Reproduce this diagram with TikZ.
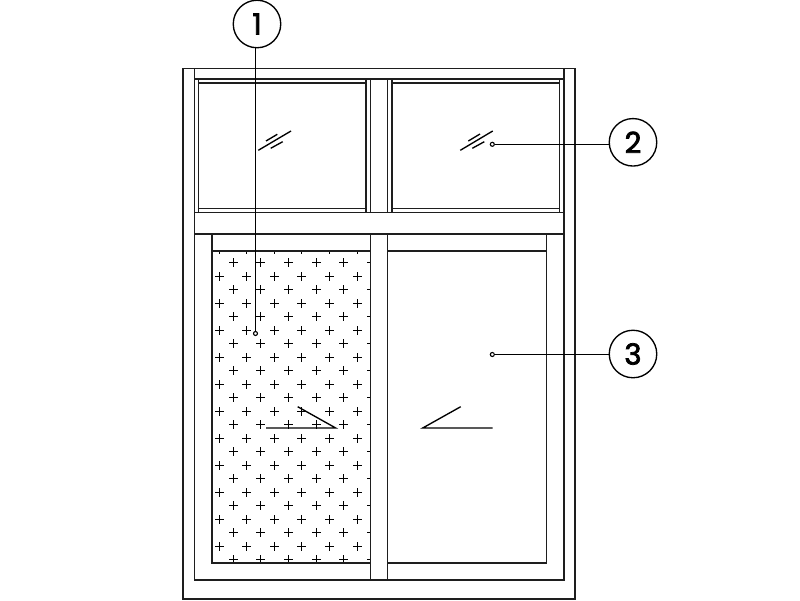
\documentclass[tikz,border=0pt]{standalone}
\usepackage{fontspec}
\setmainfont{Poppins}
\newfontfamily\calloutfont[FakeBold=2.5]{Poppins}
\definecolor{ink}{HTML}{1E1E1E}
\tikzset{
  frameline/.style={draw=ink,line width=1.6pt},
  thinline/.style={draw=black,line width=1.35pt},
  callout/.style={circle,draw=black,line width=1.35pt,fill=white,minimum size=47.5pt,inner sep=0pt,font=\calloutfont\fontsize{29}{29}\selectfont},
  tipdot/.style={circle,draw=black,line width=1.1pt,fill=white,minimum size=4pt,inner sep=0pt},
  leader/.style={draw=black,line width=1.35pt},
  plusmark/.style={draw=black,line width=1.2pt}
}
\begin{document}
\begin{tikzpicture}[x=1pt,y=-1pt]
\useasboundingbox[fill=white] (0,0) rectangle (800,600);
% hatch of crosses
\begin{scope}
\clip (211.7,251) rectangle (370.3,563);
\foreach \k in {0,...,23}{
  \pgfmathsetmacro{\yy}{floor(249.2+13.5*\k)+0.5}
  \pgfmathsetmacro{\xs}{isodd(\k) ? 205.7 : 219.0}
  \foreach \i in {0,...,6}{
    \pgfmathsetmacro{\xx}{floor(\xs+27.6*\i)+0.5}
    \draw[plusmark] (\xx-4.2,\yy) -- (\xx+4.2,\yy) (\xx,\yy-4.2) -- (\xx,\yy+4.2);
  }
}
\end{scope}
% outer frame
\draw[frameline] (183,68.3) rectangle (575,598.8);
\draw[frameline] (194.3,68.3) -- (194.3,579.7) -- (564,579.7) -- (564,68.3);
\draw[frameline] (194.3,79) -- (564,79);
\draw[frameline] (194.3,212.3) -- (564,212.3);
\draw[frameline] (194.3,233.7) -- (564,233.7);
% upper sashes
\draw[frameline] (198.3,79) -- (198.3,212.3);
\draw[frameline] (198.3,83) -- (366,83);
\draw[frameline] (198.3,208.3) -- (366,208.3);
\draw[frameline] (366,79) -- (366,212.3);
\draw[frameline] (370.3,79) -- (370.3,212.3);
\draw[frameline] (387.6,79) -- (387.6,212.3);
\draw[frameline] (392,79) -- (392,212.3);
\draw[frameline] (392,83) -- (559.6,83);
\draw[frameline] (392,208.3) -- (559.6,208.3);
\draw[frameline] (559.6,79) -- (559.6,212.3);
% lower panes
\draw[frameline] (211.7,233.7) -- (211.7,563) -- (370.3,563);
\draw[frameline] (211.7,251) -- (370.3,251);
\draw[frameline] (370.3,233.7) -- (370.3,579.7);
\draw[frameline] (387.6,233.7) -- (387.6,579.7);
\draw[frameline] (387.6,251) -- (546.3,251);
\draw[frameline] (546.3,233.7) -- (546.3,563) -- (387.6,563);
% glass marks
\draw[thinline] (258.3,150.3) -- (291,131);
\draw[thinline] (266,141) -- (277.3,134.3);
\draw[thinline] (270.7,148.3) -- (282.7,141.7);
\draw[thinline] (460.3,150.3) -- (492.7,131);
\draw[thinline] (468.3,141) -- (480,134);
\draw[thinline] (472.3,148.3) -- (484.3,141.7);
% sliding marks
\draw[thinline] (266,428) -- (335.7,428) -- (297.7,406.7);
\draw[thinline] (492.7,428) -- (422.7,428) -- (460.7,406.7);
% callouts
\node[callout] (c1) at (257,24) {1};
\node[callout] (c2) at (633,142.3) {2};
\node[callout] (c3) at (633,354) {3};
\node[tipdot] (d1) at (255.5,333.5) {};
\node[tipdot] (d2) at (492.3,144.3) {};
\node[tipdot] (d3) at (492.3,354.5) {};
\draw[leader] (d1) -- (d1 |- c1.south);
\draw[leader] (d2) -- (d2 -| c2.west);
\draw[leader] (d3) -- (d3 -| c3.west);
\end{tikzpicture}
\end{document}
